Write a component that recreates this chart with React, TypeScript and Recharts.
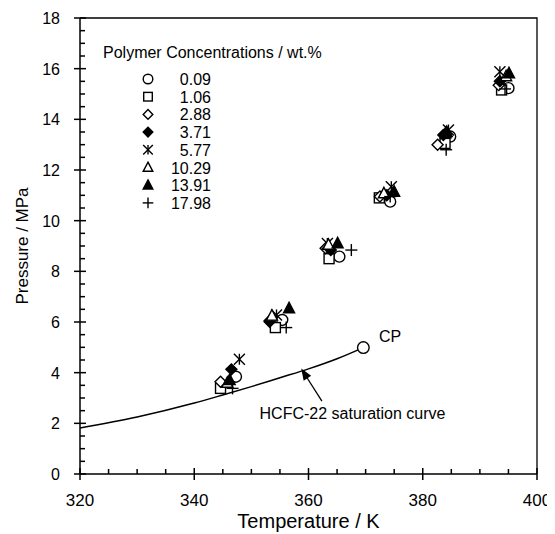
import React from "react";
import { ComposedChart, Line, Scatter, XAxis, YAxis } from "recharts";

const FONT = '"Liberation Sans", Arial, sans-serif';

const CONCENTRATIONS = ["0.09", "1.06", "2.88", "3.71", "5.77", "10.29", "13.91", "17.98"];
const MARKERS = [
  "circle",
  "square",
  "diamond",
  "diamondFilled",
  "asterisk",
  "triangle",
  "triangleFilled",
  "plus",
];

// measured points, T in K and P in MPa
const wt0_09 = [
  { T: 347.3, P: 3.84 },
  { T: 355.4, P: 6.08 },
  { T: 365.4, P: 8.58 },
  { T: 374.3, P: 10.75 },
  { T: 384.8, P: 13.32 },
  { T: 395.0, P: 15.23 },
];
const wt1_06 = [
  { T: 344.6, P: 3.38 },
  { T: 354.2, P: 5.78 },
  { T: 363.6, P: 8.5 },
  { T: 372.4, P: 10.9 },
  { T: 383.9, P: 13.05 },
  { T: 393.8, P: 15.16 },
];
const wt2_88 = [
  { T: 344.6, P: 3.64 },
  { T: 353.2, P: 6.05 },
  { T: 363.0, P: 8.91 },
  { T: 372.5, P: 10.95 },
  { T: 382.6, P: 13.0 },
  { T: 393.3, P: 15.35 },
];
const wt3_71 = [
  { T: 346.5, P: 4.13 },
  { T: 353.2, P: 6.01 },
  { T: 363.9, P: 8.84 },
  { T: 373.7, P: 11.0 },
  { T: 383.6, P: 13.38 },
  { T: 393.5, P: 15.5 },
];
const wt5_77 = [
  { T: 347.9, P: 4.53 },
  { T: 354.4, P: 6.28 },
  { T: 363.3, P: 9.1 },
  { T: 374.5, P: 11.34 },
  { T: 384.5, P: 13.58 },
  { T: 393.5, P: 15.88 },
];
const wt10_29 = [
  { T: 345.8, P: 3.6 },
  { T: 353.6, P: 6.25 },
  { T: 363.5, P: 9.05 },
  { T: 373.2, P: 11.08 },
  { T: 384.0, P: 13.45 },
  { T: 394.6, P: 15.7 },
];
const wt13_91 = [
  { T: 346.2, P: 3.71 },
  { T: 356.6, P: 6.54 },
  { T: 365.1, P: 9.11 },
  { T: 375.0, P: 11.14 },
  { T: 384.2, P: 13.5 },
  { T: 395.1, P: 15.82 },
];
const wt17_98 = [
  { T: 346.7, P: 3.38 },
  { T: 356.1, P: 5.78 },
  { T: 367.5, P: 8.84 },
  { T: 374.3, P: 10.95 },
  { T: 384.1, P: 12.8 },
  { T: 394.4, P: 15.2 },
];
const SERIES_POINTS = [wt0_09, wt1_06, wt2_88, wt3_71, wt5_77, wt10_29, wt13_91, wt17_98];

// HCFC-22 saturation curve up to the critical point
const CURVE_T = [320, 330, 340, 345, 350, 355, 360, 365, 369.6];
const CURVE_P = [1.82, 2.25, 2.8, 3.12, 3.45, 3.8, 4.15, 4.55, 4.99];
const CRITICAL_POINT = [{ T: 369.6, P: 4.99 }];

// annotation anchors (data units)
const CP_LABEL = [{ T: 374.3, P: 5.45 }];
const CURVE_LABEL = [{ T: 367.7, P: 2.41 }];
const ARROW_TIP = [{ T: 358.9, P: 4.1 }];

const X_MIN = 320;
const X_MAX = 400;
const Y_MIN = 0;
const Y_MAX = 18;
const X_MAJOR = [320, 340, 360, 380, 400];
const X_TICKS = [320, 325, 330, 335, 340, 345, 350, 355, 360, 365, 370, 375, 380, 385, 390, 395, 400];
const Y_MAJOR = [0, 2, 4, 6, 8, 10, 12, 14, 16, 18];
const Y_TICKS = [
  0, 0.5, 1, 1.5, 2, 2.5, 3, 3.5, 4, 4.5, 5, 5.5, 6, 6.5, 7, 7.5, 8, 8.5, 9, 9.5, 10,
  10.5, 11, 11.5, 12, 12.5, 13, 13.5, 14, 14.5, 15, 15.5, 16, 16.5, 17, 17.5, 18,
];

const curveData = CURVE_T.map((T, i) => ({ T, P: CURVE_P[i] }));
// top and right edges of the plot box
const frameData = [
  { T: X_MIN, P: Y_MAX },
  { T: X_MAX, P: Y_MAX },
  { T: X_MAX, P: Y_MIN },
];
// tick marks placed through the chart scales
const xMajorMarks = X_MAJOR.map((T) => ({ T, P: Y_MIN }));
const xMinorMarks = X_TICKS.filter((t) => !X_MAJOR.includes(t)).map((T) => ({ T, P: Y_MIN }));
const yMajorMarks = Y_MAJOR.map((P) => ({ T: X_MIN, P }));
const yMinorMarks = Y_TICKS.filter((t) => !Y_MAJOR.includes(t)).map((P) => ({ T: X_MIN, P }));

function Marker({ kind, cx, cy, s = 5.5 }: { kind: string; cx: number; cy: number; s?: number }) {
  const st = { stroke: "#000", strokeWidth: 1.4 };
  switch (kind) {
    case "circle":
      return <circle cx={cx} cy={cy} r={s} fill="#fff" {...st} />;
    case "square":
      return <rect x={cx - s + 0.5} y={cy - s + 0.5} width={2 * s - 1} height={2 * s - 1} fill="#fff" {...st} />;
    case "diamond":
    case "diamondFilled":
      return (
        <polygon
          points={`${cx},${cy - s} ${cx + s},${cy} ${cx},${cy + s} ${cx - s},${cy}`}
          fill={kind === "diamond" ? "#fff" : "#000"}
          {...st}
        />
      );
    case "triangle":
    case "triangleFilled":
      return (
        <polygon
          points={`${cx},${cy - s - 0.5} ${cx + s},${cy + s - 1} ${cx - s},${cy + s - 1}`}
          fill={kind === "triangle" ? "#fff" : "#000"}
          {...st}
        />
      );
    case "asterisk":
      return (
        <g {...st}>
          <line x1={cx - s} y1={cy - s} x2={cx + s} y2={cy + s} />
          <line x1={cx - s} y1={cy + s} x2={cx + s} y2={cy - s} />
          <line x1={cx} y1={cy - s} x2={cx} y2={cy + s} />
        </g>
      );
    case "plus":
    default:
      return (
        <g {...st}>
          <line x1={cx - s - 0.5} y1={cy} x2={cx + s + 0.5} y2={cy} />
          <line x1={cx} y1={cy - s - 0.5} x2={cx} y2={cy + s + 0.5} />
        </g>
      );
  }
}

function renderXTick(props: any) {
  const x = Number(props.x);
  const y = Number(props.y);
  const v = props.payload.value;
  return (
    <text x={x} y={y + 32} textAnchor="middle" fontSize={17} fontFamily={FONT} fill="#000">
      {v}
    </text>
  );
}

function renderYTick(props: any) {
  const x = Number(props.x);
  const y = Number(props.y);
  const v = props.payload.value;
  return (
    <text x={x - 20} y={y + 6} textAnchor="end" fontSize={16} fontFamily={FONT} fill="#000">
      {v}
    </text>
  );
}

function Arrow({ cx, cy }: any) {
  // arrow points up-left onto the curve
  return (
    <g stroke="#000" strokeWidth={1.3}>
      <line x1={cx + 4.8} y1={cy + 7.6} x2={cx + 19.7} y2={cy + 31} />
      <polygon
        points={`${cx},${cy} ${cx + 1.9},${cy + 9.5} ${cx + 7.8},${cy + 5.7}`}
        fill="#000"
      />
    </g>
  );
}

function TextMark({ cx, cy, text }: any) {
  return (
    <text x={cx} y={cy + 6} textAnchor="middle" fontSize={16} fontFamily={FONT} fill="#000">
      {text}
    </text>
  );
}

function Overlay() {
  // axis titles and the legend box
  return (
    <svg
      width={547}
      height={526}
      style={{ position: "absolute", left: 0, top: 0, pointerEvents: "none", fontFamily: FONT }}
    >
      <text x={300.5} y={520} textAnchor="middle" fontSize={20} fill="#000">
        Temperature / K
      </text>
      <text transform="translate(20,238) rotate(-90)" textAnchor="middle" fontSize={17} fill="#000">
        Pressure / MPa
      </text>
      <g transform="translate(95,35)">
        <text x={0} y={15} fontSize={16} fill="#000">
          Polymer Concentrations / wt.%
        </text>
        {CONCENTRATIONS.map((c, i) => {
          const cy = 36 + i * 17.7;
          return (
            <g key={c}>
              <Marker kind={MARKERS[i]} cx={45} cy={cy} s={4.8} />
              <text x={108} y={cy + 6} fontSize={16} textAnchor="end" fill="#000">
                {c}
              </text>
            </g>
          );
        })}
      </g>
    </svg>
  );
}

export default function App() {
  return (
    <div style={{ position: "relative", width: 547, height: 526, fontFamily: FONT }}>
      <ComposedChart width={547} height={526} margin={{ top: 10, right: 18, bottom: 0, left: 0 }}>
        <XAxis
          type="number"
          dataKey="T"
          domain={[X_MIN, X_MAX]}
          ticks={X_MAJOR}
          interval={0}
          tickSize={0}
          tickMargin={0}
          tick={renderXTick}
          height={60}
          stroke="#000"
          strokeWidth={1.5}
        />
        <YAxis
          type="number"
          dataKey="P"
          domain={[Y_MIN, Y_MAX]}
          ticks={Y_MAJOR}
          interval={0}
          tickSize={0}
          tickMargin={0}
          tick={renderYTick}
          width={72}
          stroke="#000"
          strokeWidth={1.5}
        />
        <Line
          data={frameData}
          dataKey="P"
          type="linear"
          stroke="#000"
          strokeWidth={1.3}
          dot={false}
          isAnimationActive={false}
        />
        <Scatter
          data={xMajorMarks}
          dataKey="P"
          isAnimationActive={false}
          shape={(p: any) => (
            <line x1={p.cx} y1={p.cy - 6} x2={p.cx} y2={p.cy + 6} stroke="#000" strokeWidth={1.5} />
          )}
        />
        <Scatter
          data={xMinorMarks}
          dataKey="P"
          isAnimationActive={false}
          shape={(p: any) => (
            <line x1={p.cx} y1={p.cy - 5} x2={p.cx} y2={p.cy} stroke="#000" strokeWidth={1.5} />
          )}
        />
        <Scatter
          data={yMajorMarks}
          dataKey="P"
          isAnimationActive={false}
          shape={(p: any) => (
            <line x1={p.cx - 6} y1={p.cy} x2={p.cx + 6} y2={p.cy} stroke="#000" strokeWidth={1.5} />
          )}
        />
        <Scatter
          data={yMinorMarks}
          dataKey="P"
          isAnimationActive={false}
          shape={(p: any) => (
            <line x1={p.cx} y1={p.cy} x2={p.cx + 5} y2={p.cy} stroke="#000" strokeWidth={1.5} />
          )}
        />
        <Line
          data={curveData}
          dataKey="P"
          type="monotone"
          stroke="#000"
          strokeWidth={1.5}
          dot={false}
          isAnimationActive={false}
        />
        <Scatter
          data={CRITICAL_POINT}
          dataKey="P"
          isAnimationActive={false}
          shape={(p: any) => <Marker kind="circle" cx={p.cx} cy={p.cy} s={5.8} />}
        />
        {SERIES_POINTS.map((pts, i) => (
          <Scatter
            key={CONCENTRATIONS[i]}
            name={CONCENTRATIONS[i]}
            data={pts}
            dataKey="P"
            isAnimationActive={false}
            shape={(p: any) => <Marker kind={MARKERS[i]} cx={p.cx} cy={p.cy} />}
          />
        ))}
        <Scatter
          data={CP_LABEL}
          dataKey="P"
          isAnimationActive={false}
          shape={(p: any) => <TextMark cx={p.cx} cy={p.cy} text="CP" />}
        />
        <Scatter
          data={CURVE_LABEL}
          dataKey="P"
          isAnimationActive={false}
          shape={(p: any) => <TextMark cx={p.cx} cy={p.cy} text="HCFC-22 saturation curve" />}
        />
        <Scatter
          data={ARROW_TIP}
          dataKey="P"
          isAnimationActive={false}
          shape={(p: any) => <Arrow cx={p.cx} cy={p.cy} />}
        />
      </ComposedChart>
      <Overlay />
    </div>
  );
}
